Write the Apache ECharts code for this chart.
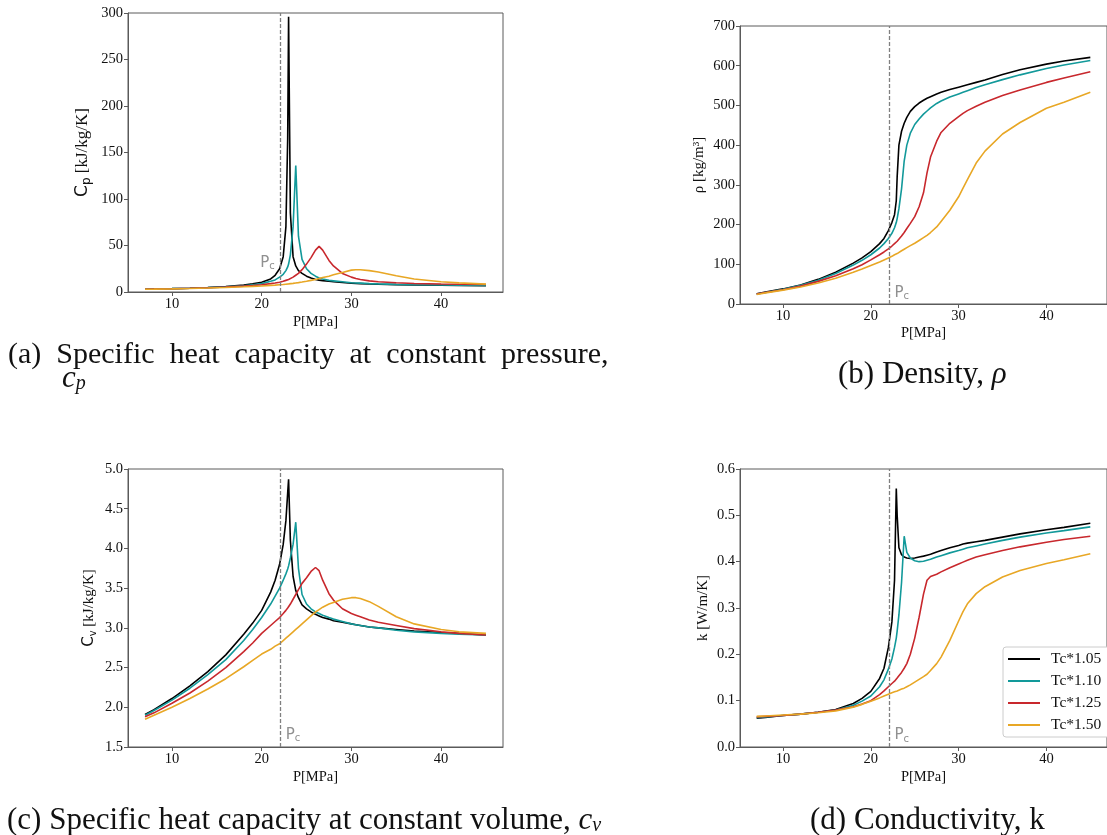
<!DOCTYPE html>
<html><head><meta charset="utf-8">
<script src="https://cdn.jsdelivr.net/npm/echarts@6/dist/echarts.min.js"></script>
<style>html,body{margin:0;padding:0;background:#fff}#c{width:1107px;height:835px}</style>
</head><body><div id="c"></div>
<script>
// Pressure samples [MPa]
const P = [7,8,10,12,14,16,18,19,20,21,21.5,22,22.4,22.7,22.9,23.0,23.2,23.5,23.8,24.1,24.5,25,25.5,26,26.4,26.8,27.5,28,29,30,30.5,31,32,33,35,37,40,42,45];

// (a) cp [kJ/kg/K]
const cp105 = [3.0,3.2,3.6,4.1,4.8,5.8,7.5,8.8,10.5,14,18,25,38,70,165,296,85,38,28,23,20,17,15,13.5,12.8,12.2,11.5,11,10.2,9.5,9.2,9,8.6,8.3,7.9,7.6,7.3,7.1,6.8];
const cp110 = [3.0,3.2,3.6,4.1,4.7,5.5,6.8,7.8,9,11.5,13,16,19,23,27,30,40,70,136,60,35,25,20,17,15,14,12.5,12,11,10,9.7,9.5,9,8.7,8.2,7.8,7.5,7.2,7];
const cp125 = [3.0,3.2,3.5,4.0,4.6,5.3,6.3,7,7.8,9,9.7,10.5,11.5,12.5,13,13.5,14.5,16,18,20,24,30,37,45,49,45,34,28,20,16,14.5,13.5,12,11,10,9.2,8.6,8.3,8];
const cp150 = [3.0,3.1,3.4,3.8,4.3,4.9,5.6,6,6.5,7.1,7.4,7.8,8.1,8.4,8.6,8.7,8.9,9.3,9.7,10.1,10.7,11.5,12.5,13.5,14.5,15.5,17,18.5,21,23.5,24,24,23,21.5,17.5,14,11,9.8,8.5];

// (b) density [kg/m3]
const rho105 = [26,30,38,48,62,80,103,116,132,152,165,185,205,225,260,320,400,435,455,470,485,497,506,513,518,522,529,533,540,546,549,552,558,564,578,590,604,612,621];
const rho110 = [25,29,37,47,60,77,98,110,124,141,152,165,178,192,205,215,240,290,360,400,430,452,466,478,486,494,505,511,521,529,533,537,545,552,565,577,593,602,613];
const rho125 = [25,29,36,45,57,71,89,99,111,124,131,139,146,152,156,158,163,171,180,190,203,220,245,280,330,370,410,432,455,472,480,487,498,508,525,539,558,569,585];
const rho150 = [24,28,35,43,53,65,80,88,97,106,111,116,120,124,126,127,130,134,138,142,147,153,160,167,173,180,194,208,236,270,292,313,355,385,428,457,493,508,533];

// (c) cv [kJ/kg/K]
const cv105 = [1.91,1.97,2.11,2.27,2.45,2.66,2.92,3.06,3.22,3.45,3.6,3.8,4.05,4.35,4.7,4.87,4.1,3.65,3.47,3.38,3.29,3.24,3.2,3.17,3.15,3.13,3.11,3.09,3.07,3.05,3.04,3.03,3.01,3.0,2.98,2.96,2.94,2.93,2.91];
const cv110 = [1.9,1.96,2.09,2.24,2.41,2.6,2.84,2.98,3.13,3.3,3.4,3.5,3.6,3.68,3.74,3.78,3.88,4.05,4.33,3.75,3.42,3.3,3.24,3.2,3.18,3.16,3.13,3.11,3.08,3.05,3.04,3.03,3.01,3.0,2.97,2.95,2.93,2.92,2.91];
const cv125 = [1.88,1.93,2.05,2.18,2.33,2.5,2.7,2.81,2.93,3.03,3.08,3.13,3.18,3.22,3.25,3.27,3.3,3.36,3.42,3.48,3.56,3.63,3.71,3.76,3.72,3.6,3.43,3.35,3.24,3.18,3.16,3.14,3.1,3.07,3.03,2.99,2.95,2.93,2.91];
const cv150 = [1.85,1.9,2.0,2.11,2.23,2.36,2.51,2.59,2.67,2.73,2.77,2.8,2.84,2.87,2.89,2.9,2.92,2.95,2.98,3.01,3.05,3.1,3.15,3.2,3.23,3.26,3.3,3.32,3.36,3.38,3.38,3.37,3.33,3.27,3.14,3.05,2.98,2.95,2.93];

// (d) conductivity [W/m/K]
const k105 = [0.062,0.064,0.068,0.071,0.075,0.081,0.094,0.105,0.12,0.148,0.17,0.215,0.27,0.36,0.558,0.50,0.43,0.415,0.41,0.408,0.407,0.408,0.41,0.412,0.414,0.416,0.421,0.424,0.43,0.435,0.438,0.44,0.443,0.446,0.453,0.46,0.469,0.474,0.483];
const k110 = [0.063,0.065,0.068,0.071,0.075,0.08,0.09,0.099,0.11,0.13,0.145,0.168,0.19,0.215,0.235,0.25,0.285,0.355,0.455,0.42,0.408,0.402,0.4,0.401,0.403,0.405,0.41,0.413,0.419,0.424,0.427,0.43,0.434,0.438,0.446,0.453,0.462,0.467,0.475];
const k125 = [0.065,0.066,0.068,0.071,0.075,0.08,0.087,0.093,0.1,0.113,0.121,0.13,0.137,0.142,0.146,0.149,0.154,0.161,0.17,0.18,0.2,0.235,0.28,0.33,0.36,0.368,0.373,0.378,0.387,0.395,0.399,0.403,0.41,0.415,0.424,0.432,0.442,0.448,0.455];
const k150 = [0.066,0.067,0.069,0.071,0.074,0.078,0.086,0.092,0.099,0.106,0.11,0.114,0.117,0.119,0.12,0.121,0.123,0.125,0.127,0.13,0.134,0.14,0.146,0.152,0.157,0.165,0.18,0.194,0.23,0.272,0.292,0.309,0.331,0.346,0.367,0.381,0.396,0.404,0.417];

const SERIES_NAMES = ['Tc*1.05','Tc*1.10','Tc*1.25','Tc*1.50'];
const X_TICKS = [10,20,30,40];
const PC = 22.064; // critical pressure [MPa]

const COLORS = ['#000000','#12999a','#c8282d','#e8a725'];
const SERIF = 'Liberation Serif';
const SANS = 'DejaVu Sans';
const AX = '#5a5a5a';
const TXT = '#111';

const zip = (xs, ys) => xs.map((x, i) => [x, ys[i]]);

const panels = [
  { grid:{left:128, top:13, width:375, height:279}, data:[cp105,cp110,cp125,cp150],
    y:{min:0,max:300,interval:50, fmt:v=>String(v)}, yname:'{c|C}{s|p}{t| [kJ/kg/K]}', ygap:35, xgap:23, nsize:17,
    pc:{y:31, pos:'left'} },
  { grid:{left:740, top:26, width:375, height:278}, data:[rho105,rho110,rho125,rho150],
    y:{min:0,max:700,interval:100, fmt:v=>String(v)}, yname:'{t|ρ [kg/m³]}', ygap:33, xgap:22, nsize:15,
    pc:{y:28, pos:'right'} },
  { grid:{left:128, top:469, width:375, height:278}, data:[cv105,cv110,cv125,cv150],
    y:{min:1.5,max:5.0,interval:0.5, fmt:v=>v.toFixed(1)}, yname:'{c|C}{s|v}{t| [kJ/kg/K]}', ygap:30, xgap:23, nsize:15,
    pc:{y:1.65, pos:'right'} },
  { grid:{left:740, top:469, width:375, height:278}, data:[k105,k110,k125,k150],
    y:{min:0,max:0.6,interval:0.1, fmt:v=>v.toFixed(1)}, yname:'{t|k [W/m/K]}', ygap:29, xgap:23, nsize:15,
    pc:{y:0.025, pos:'right'} }
];

const makeNameRich = (sz) => ({
  c:{fontFamily:SANS, fontSize:sz, color:TXT},
  s:{fontFamily:SANS, fontSize:Math.round(sz*0.68), color:TXT, padding:[Math.round(sz*0.45),0,0,0]},
  t:{fontFamily:SERIF, fontSize:sz, color:TXT}
});

const grid = [], xAxis = [], yAxis = [], series = [];
panels.forEach((p, i) => {
  grid.push(Object.assign({show:true, borderColor:AX, borderWidth:1, backgroundColor:'transparent'}, p.grid));
  xAxis.push({
    gridIndex:i, type:'value', min:5.1, max:46.9,
    name:'P[MPa]', nameLocation:'middle', nameGap:p.xgap,
    nameTextStyle:{fontFamily:SERIF, fontSize:14.5, color:TXT},
    axisLine:{show:true, lineStyle:{color:AX, width:1}},
    axisTick:{show:true, length:4, lineStyle:{color:AX}, customValues:X_TICKS},
    axisLabel:{fontFamily:SERIF, fontSize:14.5, color:TXT, margin:5, customValues:X_TICKS},
    splitLine:{show:false}
  });
  yAxis.push({
    gridIndex:i, type:'value', min:p.y.min, max:p.y.max, interval:p.y.interval,
    name:p.yname, nameLocation:'middle', nameGap:p.ygap, nameRotate:90,
    nameTextStyle:{rich:makeNameRich(p.nsize)},
    axisLine:{show:true, lineStyle:{color:AX, width:1}},
    axisTick:{show:true, length:4, lineStyle:{color:AX}},
    axisLabel:{fontFamily:SERIF, fontSize:14.5, color:TXT, margin:5, formatter:p.y.fmt},
    splitLine:{show:false}
  });
  p.data.forEach((arr, s) => {
    const ser = {
      type:'line', name:SERIES_NAMES[s], xAxisIndex:i, yAxisIndex:i,
      data:zip(P, arr), symbol:'none', smooth:false,
      lineStyle:{color:COLORS[s], width:1.6}, itemStyle:{color:COLORS[s]},
      animation:false, emphasis:{disabled:true}
    };
    if (s === 0) {
      ser.markLine = {
        silent:true, symbol:['none','none'], animation:false,
        data:[{xAxis:PC}],
        lineStyle:{color:'#808080', type:[4,2], width:1.3},
        label:{show:false}
      };
      ser.markPoint = {
        silent:true, animation:false, symbol:'circle', symbolSize:1,
        itemStyle:{color:'rgba(0,0,0,0)'},
        data:[{coord:[PC, p.pc.y]}],
        label:{show:true, position:p.pc.pos, distance:5,
          formatter:'{p|P}{c|c}',
          rich:{p:{fontFamily:SANS, fontSize:15, color:'#909090'},
                c:{fontFamily:SANS, fontSize:10, color:'#909090', padding:[7,0,0,0]}}}
      };
    }
    series.push(ser);
  });
});

const CS = 31;
const capStyle = {fontFamily:SERIF, fontSize:CS, fontWeight:'normal', color:'#111'};
const capRich = {
  t:{fontFamily:SERIF, fontSize:CS, color:'#111'},
  ta:{fontFamily:SERIF, fontSize:30, color:'#111'},
  i:{fontFamily:SERIF, fontSize:CS, fontStyle:'italic', color:'#111'},
  s:{fontFamily:SERIF, fontSize:20, fontStyle:'italic', color:'#111', padding:[10,0,0,0]}
};
const cap = (text, left, top) => ({text, left, top, textStyle:Object.assign({rich:capRich}, capStyle)});
const title = [
  cap('{ta|(a)  Specific  heat  capacity  at  constant  pressure,}', 3, 335),
  cap('{i|c}{s|p}', 57, 358),
  cap('{t|(b) Density, }{i|ρ}', 833, 354),
  cap('{t|(c) Specific heat capacity at constant volume, }{i|c}{s|v}', 2, 800),
  cap('{t|(d) Conductivity, k}', 805, 800)
];

const chart = echarts.init(document.getElementById('c'), null, {renderer:'canvas'});
chart.setOption({
  backgroundColor:'#ffffff',
  animation:false,
  title,
  grid, xAxis, yAxis, series,
  legend:{
    data:SERIES_NAMES, orient:'vertical', left:1003, top:647,
    icon:'rect', itemWidth:32, itemHeight:2, itemGap:6,
    padding:[4,30,4,5], borderColor:'#cccccc', borderWidth:1, borderRadius:3,
    backgroundColor:'#ffffff',
    textStyle:{fontFamily:SERIF, fontSize:15.5, color:TXT, lineHeight:16, padding:[0,0,0,6]}
  }
});
</script></body></html>
